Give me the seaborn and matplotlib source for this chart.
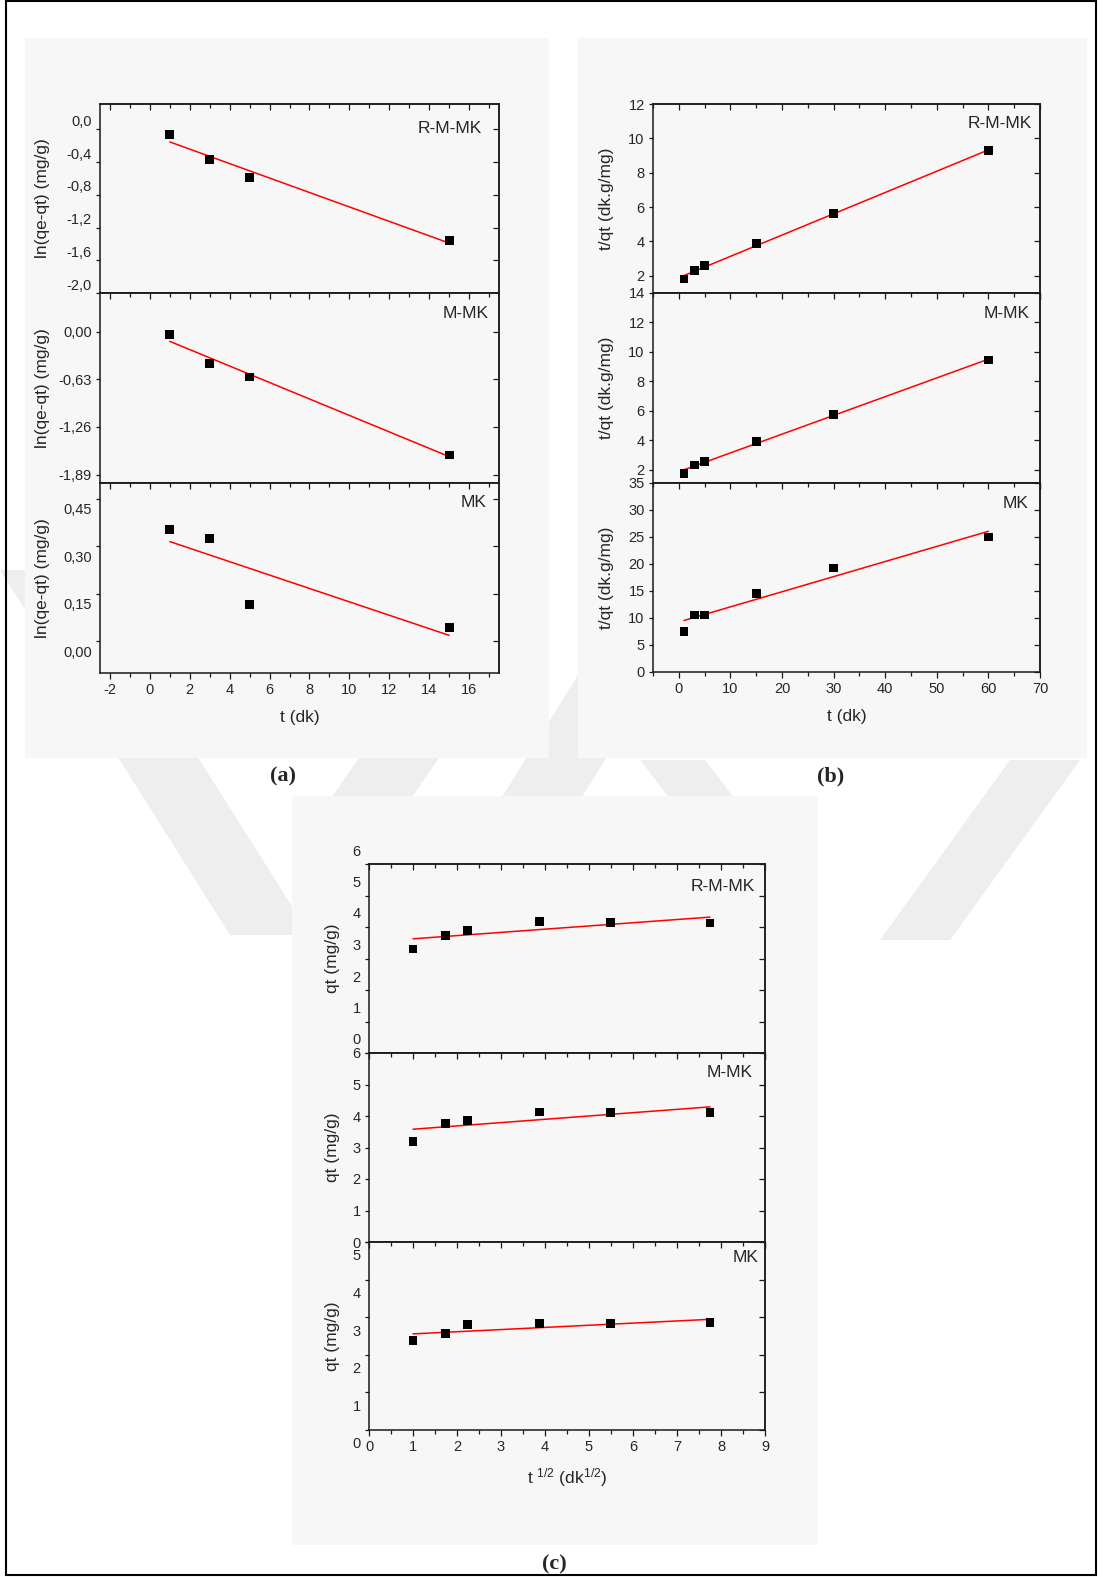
import numpy as np
import pandas as pd
import matplotlib
matplotlib.use("Agg")
import matplotlib.pyplot as plt
import seaborn as sns
from matplotlib.patches import Rectangle, Polygon
from matplotlib.ticker import MultipleLocator, FixedLocator
from matplotlib.transforms import ScaledTranslation

# ---------------------------------------------------------------- data
samples = ["R-M-MK", "M-MK", "MK"]

# (a) pseudo-first-order: ln(qe-qt) vs t
t_pfo = [1, 3, 5, 15]
ln_rmmk = [-0.06, -0.37, -0.59, -1.36]
ln_mmk = [-0.04, -0.42, -0.60, -1.63]
ln_mk = [0.352, 0.324, 0.117, 0.044]

# (b) pseudo-second-order: t/qt vs t
t_pso = [1, 3, 5, 15, 30, 60]
tq_rmmk = [1.81, 2.29, 2.58, 3.89, 5.63, 9.28]
tq_mmk = [1.75, 2.32, 2.57, 3.91, 5.73, 9.45]
tq_mk = [7.53, 10.56, 10.56, 14.57, 19.26, 25.00]

# (c) intraparticle diffusion: qt vs t^1/2
t_half = [1.00, 1.73, 2.24, 3.87, 5.48, 7.75]
qt_rmmk = [3.30, 3.74, 3.90, 4.17, 4.15, 4.13]
qt_mmk = [3.20, 3.76, 3.86, 4.13, 4.12, 4.10]
qt_mk = [2.37, 2.56, 2.81, 2.83, 2.84, 2.85]

# tick values and their printed labels
a_ticks = [[0.0, -0.4, -0.8, -1.2, -1.6, -2.0],
           [0.0, -0.63, -1.26, -1.89],
           [0.0, 0.15, 0.30, 0.45]]
a_labels = [["0,0", "-0,4", "-0,8", "-1,2", "-1,6", "-2,0"],
            ["0,00", "-0,63", "-1,26", "-1,89"],
            ["0,00", "0,15", "0,30", "0,45"]]
b_ticks = [[2, 4, 6, 8, 10, 12],
           [2, 4, 6, 8, 10, 12, 14],
           [0, 5, 10, 15, 20, 25, 30, 35]]
c_ticks = [[0, 1, 2, 3, 4, 5, 6],
           [0, 1, 2, 3, 4, 5, 6],
           [0, 1, 2, 3, 4, 5]]

# ---------------------------------------------------------------- style
W, H = 1103, 1577
sns.set_theme(style="ticks")
plt.rcParams["font.family"] = ["Liberation Sans", "DejaVu Sans"]
plt.rcParams["axes.unicode_minus"] = False
plt.rcParams["mathtext.fontset"] = "custom"
plt.rcParams["mathtext.rm"] = "Liberation Sans"
plt.rcParams["mathtext.it"] = "Liberation Sans:italic"
plt.rcParams["mathtext.bf"] = "Liberation Sans:bold"

PANEL = "#f7f7f7"
MARK = "#eeeeee"
INK = "#1a1a1a"
TICK_FS = 10.5
LAB_FS = 12.5
ANN_FS = 12.5

fig = plt.figure(figsize=(W / 100, H / 100), dpi=100)
fig.patch.set_facecolor("white")


def px_rect(x0, y0, x1, y1, **kw):
    fig.add_artist(Rectangle((x0 / W, 1 - y1 / H), (x1 - x0) / W, (y1 - y0) / H,
                             transform=fig.transFigure, **kw))


def px_poly(pts, **kw):
    fig.add_artist(Polygon([(x / W, 1 - y / H) for x, y in pts], closed=True,
                           transform=fig.transFigure, **kw))


# faint background emblem (sits under the panels)
emblem = [
    [(0, 570), (80, 570), (310, 935), (230, 935)],
    [(440, 640), (520, 640), (410, 800), (330, 800)],
    [(600, 640), (680, 640), (580, 800), (500, 800)],
    [(640, 760), (705, 760), (790, 870), (725, 870)],
    [(1010, 760), (1080, 760), (950, 940), (880, 940)],
]
for pts in emblem:
    px_poly(pts, facecolor=MARK, edgecolor="none", zorder=-4)

# light panel backgrounds
px_rect(25, 38, 549, 758, facecolor=PANEL, edgecolor="none", zorder=-3)
px_rect(578, 38, 1087, 758, facecolor=PANEL, edgecolor="none", zorder=-3)
px_rect(292, 796, 818, 1545, facecolor=PANEL, edgecolor="none", zorder=-3)

# page frame
px_rect(6, 1, 1096, 1575, fill=False, edgecolor="black", linewidth=1.5, zorder=5)


def px_axes(x0, y0, x1, y1):
    return fig.add_axes([x0 / W, 1 - y1 / H, (x1 - x0) / W, (y1 - y0) / H])


def draw(ax, x, y):
    sns.regplot(x=x, y=y, ax=ax, ci=None, truncate=True, marker="s",
                color="black",
                scatter_kws=dict(s=40, color="black", edgecolors="none",
                                 alpha=1, zorder=3),
                line_kws=dict(color="red", linewidth=1.1, zorder=2))


def decorate(ax, xlim, xmajor, xminor, ylim, yticks, ylabels, ylabel,
             ylab_x, name, name_xy, bottom, shift_px=0.0):
    ax.set_facecolor(PANEL)
    for sp in ax.spines.values():
        sp.set_visible(True)
        sp.set_color(INK)
        sp.set_linewidth(1.1)
    ax.set_xlim(*xlim)
    ax.set_ylim(*ylim)
    ax.xaxis.set_major_locator(MultipleLocator(xmajor))
    ax.xaxis.set_minor_locator(MultipleLocator(xminor))
    ax.yaxis.set_major_locator(FixedLocator(yticks))
    ax.set_yticklabels(ylabels)
    ax.tick_params(axis="x", which="major", direction="out", length=4.5,
                   width=0.9, color=INK, labelsize=TICK_FS, pad=3,
                   labelbottom=bottom, top=False)
    ax.tick_params(axis="x", which="minor", direction="out", length=2.6,
                   width=0.9, color=INK, top=False)
    ax.tick_params(axis="y", which="major", direction="out", length=3,
                   width=0.9, color=INK, labelsize=TICK_FS, pad=3,
                   right=False)
    ax.tick_params(axis="y", which="minor", left=False, right=False)

    top = ax.secondary_xaxis("top")
    top.xaxis.set_major_locator(MultipleLocator(xmajor))
    top.xaxis.set_minor_locator(MultipleLocator(xminor))
    top.tick_params(axis="x", which="major", direction="in", length=4.5,
                    width=0.9, color=INK, labeltop=False, labelbottom=False)
    top.tick_params(axis="x", which="minor", direction="in", length=2.6,
                    width=0.9, color=INK)
    top.spines["top"].set_linewidth(1.1)

    right = ax.secondary_yaxis("right")
    right.yaxis.set_major_locator(FixedLocator(yticks))
    right.tick_params(axis="y", which="major", direction="in", length=4.5,
                      width=0.9, color=INK, labelright=False, labelleft=False)
    right.tick_params(axis="y", which="minor", right=False)
    right.spines["right"].set_linewidth(1.1)

    ax.set_xlabel("")
    ax.set_ylabel(ylabel, fontsize=LAB_FS)
    ax.yaxis.label.set_va("center")
    ax.yaxis.set_label_coords(ylab_x, 0.5)
    ax.text(name_xy[0], name_xy[1], name, transform=ax.transAxes,
            ha="right", va="center", fontsize=ANN_FS, zorder=5)
    if shift_px:
        off = ScaledTranslation(0, -shift_px / 100, fig.dpi_scale_trans)
        for lbl in ax.get_yticklabels():
            lbl.set_transform(lbl.get_transform() + off)


# ---------------------------------------------------------------- (a)
a_rows = [(104, 293), (293, 483), (483, 673)]
a_data = [ln_rmmk, ln_mmk, ln_mk]
a_lims = [(-2.0, 0.31), (-2.0, 0.51), (-0.1, 0.5)]
a_names = [(0.957, 0.868), (0.975, 0.89), (0.969, 0.90)]
a_shift = [-9, 0, 10]
for i in range(3):
    ax = px_axes(100, a_rows[i][0], 499, a_rows[i][1])
    draw(ax, t_pfo, a_data[i])
    decorate(ax, (-2.5, 17.5), 2, 1, a_lims[i], a_ticks[i], a_labels[i],
             "ln(qe-qt) (mg/g)", -0.143, samples[i], a_names[i], i == 2,
             a_shift[i])
    if i == 2:
        ax.set_xlabel("t (dk)", fontsize=LAB_FS)
        ax.xaxis.label.set_va("center")
        ax.xaxis.set_label_coords(0.5, -0.232)

# ---------------------------------------------------------------- (b)
b_rows = [(104, 293), (293, 483), (483, 672)]
b_data = [tq_rmmk, tq_mmk, tq_mk]
b_lims = [(1.0, 12), (1.1, 14), (0, 35)]
b_names = [(0.979, 0.898), (0.972, 0.893), (0.969, 0.893)]
for i in range(3):
    ax = px_axes(653, b_rows[i][0], 1040, b_rows[i][1])
    draw(ax, t_pso, b_data[i])
    decorate(ax, (-5, 70), 10, 5, b_lims[i], b_ticks[i],
             [str(v) for v in b_ticks[i]], "t/qt (dk.g/mg)", -0.119,
             samples[i], b_names[i], i == 2)
    if i == 2:
        ax.set_xlabel("t (dk)", fontsize=LAB_FS)
        ax.xaxis.label.set_va("center")
        ax.xaxis.set_label_coords(0.5, -0.238)

# ---------------------------------------------------------------- (c)
c_rows = [(864, 1053), (1053, 1242), (1242, 1430)]
c_data = [qt_rmmk, qt_mmk, qt_mk]
c_lims = [(0, 6), (0, 6), (0, 5)]
c_names = [(0.975, 0.881), (0.97, 0.897), (0.983, 0.915)]
c_shift = [-14, 0, 13]
for i in range(3):
    ax = px_axes(369, c_rows[i][0], 765, c_rows[i][1])
    draw(ax, t_half, c_data[i])
    decorate(ax, (0, 9), 1, 0.5, c_lims[i], c_ticks[i],
             [str(v) for v in c_ticks[i]], "qt (mg/g)", -0.093,
             samples[i], c_names[i], i == 2, c_shift[i])
    if i == 2:
        ax.set_xlabel(r"t $^{1/2}$ (dk$^{1/2}$)", fontsize=LAB_FS)
        ax.xaxis.label.set_va("center")
        ax.xaxis.set_label_coords(0.5, -0.255)

# ---------------------------------------------------------------- panel tags
for txt, x, y in [("(a)", 283, 776), ("(b)", 831, 776), ("(c)", 554, 1564)]:
    fig.text(x / W, 1 - y / H, txt, ha="center", va="center", fontsize=16,
             fontweight="bold", family=["Liberation Serif", "DejaVu Serif"])

fig.savefig("out.png", dpi=100, facecolor="white")
